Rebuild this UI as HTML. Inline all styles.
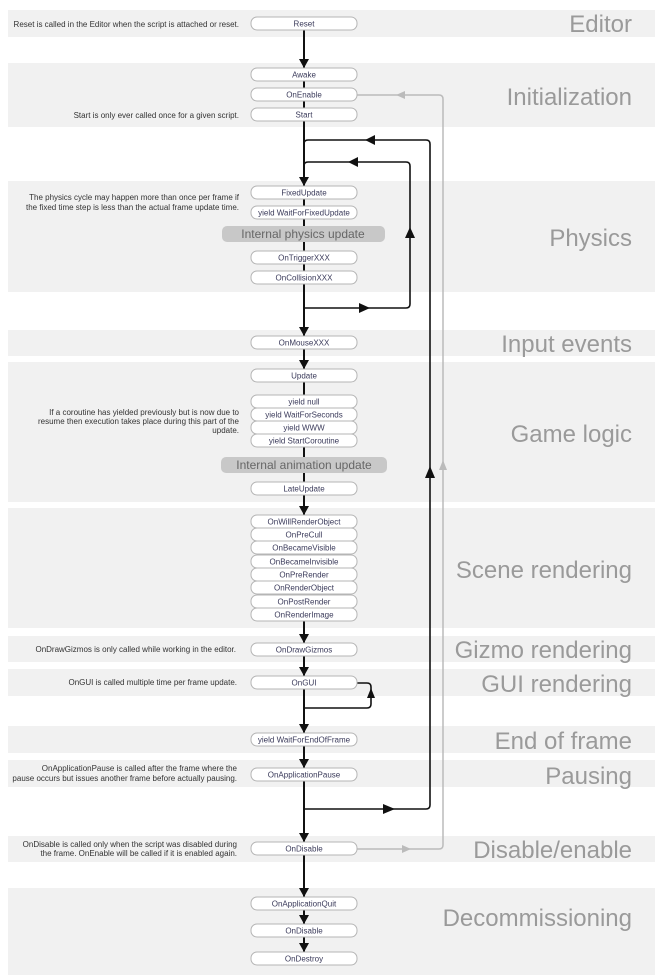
<!DOCTYPE html>
<html><head><meta charset="utf-8"><style>
html,body{margin:0;padding:0;background:#fff;}
svg{display:block;font-family:"Liberation Sans",Arial,sans-serif;}
.b{fill:#f1f1f1;}
.n{fill:#fff;stroke:#b5b5b5;stroke-width:1;}
.t{font-size:8px;fill:#3a3a5a;text-anchor:middle;}
.c{font-size:8px;fill:#333;text-anchor:end;}
.h{font-size:24px;fill:#9a9a9a;text-anchor:end;}
.g{fill:#c8c8c8;}
.gt{font-size:12px;fill:#666;text-anchor:middle;}
.k{stroke:#111;stroke-width:2;fill:none;}
.kl{stroke:#111;stroke-width:1.6;fill:none;}
.gl{stroke:#bbb;stroke-width:1.5;fill:none;}
</style></head><body>
<svg width="661" height="980" viewBox="0 0 661 980">
<rect class="b" x="8" y="10" width="647" height="27"/>
<rect class="b" x="8" y="63" width="647" height="64"/>
<rect class="b" x="8" y="181" width="647" height="111"/>
<rect class="b" x="8" y="330" width="647" height="26"/>
<rect class="b" x="8" y="362" width="647" height="140"/>
<rect class="b" x="8" y="508" width="647" height="120"/>
<rect class="b" x="8" y="636" width="647" height="26"/>
<rect class="b" x="8" y="669" width="647" height="27"/>
<rect class="b" x="8" y="726" width="647" height="27"/>
<rect class="b" x="8" y="760" width="647" height="27"/>
<rect class="b" x="8" y="836" width="647" height="26"/>
<rect class="b" x="8" y="888" width="647" height="87"/>
<text class="h" x="632" y="32">Editor</text>
<text class="h" x="632" y="105">Initialization</text>
<text class="h" x="632" y="246">Physics</text>
<text class="h" x="632" y="352">Input events</text>
<text class="h" x="632" y="442">Game logic</text>
<text class="h" x="632" y="578">Scene rendering</text>
<text class="h" x="632" y="658">Gizmo rendering</text>
<text class="h" x="632" y="692">GUI rendering</text>
<text class="h" x="632" y="749">End of frame</text>
<text class="h" x="632" y="784">Pausing</text>
<text class="h" x="632" y="858">Disable/enable</text>
<text class="h" x="632" y="926">Decommissioning</text>
<text class="c" x="239" y="27">Reset is called in the Editor when the script is attached or reset.</text>
<text class="c" x="239" y="118">Start is only ever called once for a given script.</text>
<text class="c" x="239" y="200">The physics cycle may happen more than once per frame if</text>
<text class="c" x="239" y="210">the fixed time step is less than the actual frame update time.</text>
<text class="c" x="239" y="415">If a coroutine has yielded previously but is now due to</text>
<text class="c" x="239" y="424">resume then execution takes place during this part of the</text>
<text class="c" x="239" y="433">update.</text>
<text class="c" x="236" y="652">OnDrawGizmos is only called while working in the editor.</text>
<text class="c" x="237" y="685">OnGUI is called multiple time per frame update.</text>
<text class="c" x="237" y="771">OnApplicationPause is called after the frame where the</text>
<text class="c" x="237" y="781">pause occurs but issues another frame before actually pausing.</text>
<text class="c" x="237" y="847">OnDisable is called only when the script was disabled during</text>
<text class="c" x="237" y="856">the frame. OnEnable will be called if it is enabled again.</text>
<path class="gl" d="M356 849 H439 Q443 849 443 845 V99 Q443 95 439 95 H356"/>
<polygon fill="#bbb" points="402,845 411,849 402,853"/>
<polygon fill="#bbb" points="439,470 443,460 447,470"/>
<polygon fill="#bbb" points="405,91 396,95 405,99"/>
<path class="kl" d="M304 809 H426 Q430 809 430 805 V144 Q430 140 426 140 H308 Q304 140 304 144"/>
<polygon fill="#111" points="375,135 365,140 375,145"/>
<polygon fill="#111" points="425,478 430,466 435,478"/>
<polygon fill="#111" points="383,804 395,809 383,814"/>
<path class="kl" d="M304 308 H406 Q410 308 410 304 V166 Q410 162 406 162 H308 Q304 162 304 166"/>
<polygon fill="#111" points="358,157 348,162 358,167"/>
<polygon fill="#111" points="405,238 410,227 415,238"/>
<polygon fill="#111" points="359,303 370,308 359,313"/>
<path class="kl" d="M356 683 H367 Q371 683 371 687 V704 Q371 708 367 708 H304"/>
<polygon fill="#111" points="367,698 371,688 375,698"/>
<path class="k" d="M304 30 V952"/>
<g fill="#111">
<polygon points="299,59 304,68 309,59"/>
<polygon points="299,177 304,186 309,177"/>
<polygon points="299,327 304,336 309,327"/>
<polygon points="299,360 304,369 309,360"/>
<polygon points="299,506 304,515 309,506"/>
<polygon points="299,634 304,643 309,634"/>
<polygon points="299,667 304,676 309,667"/>
<polygon points="299,724 304,733 309,724"/>
<polygon points="299,759 304,768 309,759"/>
<polygon points="299,833 304,842 309,833"/>
<polygon points="299,888 304,897 309,888"/>
<polygon points="299,915 304,924 309,915"/>
<polygon points="299,943 304,952 309,943"/>
</g>
<rect class="g" x="222" y="226" width="163" height="16" rx="5"/>
<text class="gt" x="303" y="238">Internal physics update</text>
<rect class="g" x="221" y="457" width="166" height="16" rx="5"/>
<text class="gt" x="304" y="469">Internal animation update</text>
<g>
<rect class="n" x="251" y="17" width="106" height="13" rx="6"/><text class="t" x="304" y="26.5">Reset</text>
<rect class="n" x="251" y="68" width="106" height="13" rx="6"/><text class="t" x="304" y="77.5">Awake</text>
<rect class="n" x="251" y="88" width="106" height="13" rx="6"/><text class="t" x="304" y="97.5">OnEnable</text>
<rect class="n" x="251" y="108" width="106" height="13" rx="6"/><text class="t" x="304" y="117.5">Start</text>
<rect class="n" x="251" y="186" width="106" height="13" rx="6"/><text class="t" x="304" y="195.5">FixedUpdate</text>
<rect class="n" x="251" y="206" width="106" height="13" rx="6"/><text class="t" x="304" y="215.5">yield WaitForFixedUpdate</text>
<rect class="n" x="251" y="251" width="106" height="13" rx="6"/><text class="t" x="304" y="260.5">OnTriggerXXX</text>
<rect class="n" x="251" y="271" width="106" height="13" rx="6"/><text class="t" x="304" y="280.5">OnCollisionXXX</text>
<rect class="n" x="251" y="336" width="106" height="13" rx="6"/><text class="t" x="304" y="345.5">OnMouseXXX</text>
<rect class="n" x="251" y="369" width="106" height="13" rx="6"/><text class="t" x="304" y="378.5">Update</text>
<rect class="n" x="251" y="395" width="106" height="13" rx="6"/><text class="t" x="304" y="404.5">yield null</text>
<rect class="n" x="251" y="408" width="106" height="13" rx="6"/><text class="t" x="304" y="417.5">yield WaitForSeconds</text>
<rect class="n" x="251" y="421" width="106" height="13" rx="6"/><text class="t" x="304" y="430.5">yield WWW</text>
<rect class="n" x="251" y="434" width="106" height="13" rx="6"/><text class="t" x="304" y="443.5">yield StartCoroutine</text>
<rect class="n" x="251" y="482" width="106" height="13" rx="6"/><text class="t" x="304" y="491.5">LateUpdate</text>
<rect class="n" x="251" y="515" width="106" height="13" rx="6"/><text class="t" x="304" y="524.5">OnWillRenderObject</text>
<rect class="n" x="251" y="528" width="106" height="13" rx="6"/><text class="t" x="304" y="537.5">OnPreCull</text>
<rect class="n" x="251" y="541" width="106" height="13" rx="6"/><text class="t" x="304" y="550.5">OnBecameVisible</text>
<rect class="n" x="251" y="555" width="106" height="13" rx="6"/><text class="t" x="304" y="564.5">OnBecameInvisible</text>
<rect class="n" x="251" y="568" width="106" height="13" rx="6"/><text class="t" x="304" y="577.5">OnPreRender</text>
<rect class="n" x="251" y="581" width="106" height="13" rx="6"/><text class="t" x="304" y="590.5">OnRenderObject</text>
<rect class="n" x="251" y="595" width="106" height="13" rx="6"/><text class="t" x="304" y="604.5">OnPostRender</text>
<rect class="n" x="251" y="608" width="106" height="13" rx="6"/><text class="t" x="304" y="617.5">OnRenderImage</text>
<rect class="n" x="251" y="643" width="106" height="13" rx="6"/><text class="t" x="304" y="652.5">OnDrawGizmos</text>
<rect class="n" x="251" y="676" width="106" height="13" rx="6"/><text class="t" x="304" y="685.5">OnGUI</text>
<rect class="n" x="251" y="733" width="106" height="13" rx="6"/><text class="t" x="304" y="742.5">yield WaitForEndOfFrame</text>
<rect class="n" x="251" y="768" width="106" height="13" rx="6"/><text class="t" x="304" y="777.5">OnApplicationPause</text>
<rect class="n" x="251" y="842" width="106" height="13" rx="6"/><text class="t" x="304" y="851.5">OnDisable</text>
<rect class="n" x="251" y="897" width="106" height="13" rx="6"/><text class="t" x="304" y="906.5">OnApplicationQuit</text>
<rect class="n" x="251" y="924" width="106" height="13" rx="6"/><text class="t" x="304" y="933.5">OnDisable</text>
<rect class="n" x="251" y="952" width="106" height="13" rx="6"/><text class="t" x="304" y="961.5">OnDestroy</text>
</g>
</svg>
</body></html>
